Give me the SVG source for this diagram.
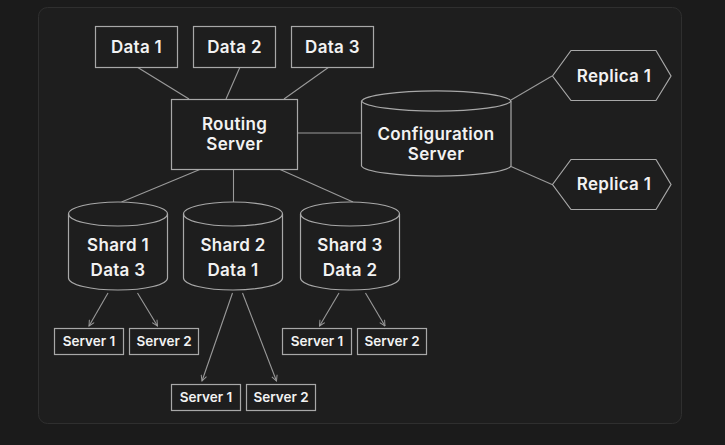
<svg xmlns="http://www.w3.org/2000/svg" width="725" height="445" viewBox="0 0 725 445">
<defs>
<style>
.bg{fill:#1b1b1b}
.panel{fill:#1e1e1e;stroke:#2f2f2f;stroke-width:1}
.n{fill:#1e1e1e;stroke:#a8a8a8;stroke-width:1.2}
.e{fill:none;stroke:#a8a8a8;stroke-width:1.2}
.c{fill:none;stroke:#9a9a9a;stroke-width:1.1}
.t{font-family:Inter,"Noto Sans",sans-serif;font-weight:600;font-size:17px;letter-spacing:0.3px;fill:#f2f2f2;text-anchor:middle}
.s{font-family:Inter,"Noto Sans",sans-serif;font-weight:600;font-size:13.5px;fill:#f2f2f2;text-anchor:middle}
</style>
<marker id="arr" viewBox="0 0 10 10" refX="9" refY="5" markerWidth="7" markerHeight="7" orient="auto" markerUnits="userSpaceOnUse">
<path d="M1,1 L9,5 L1,9" fill="none" stroke="#9a9a9a" stroke-width="1.4"/>
</marker>
</defs>
<rect class="bg" x="0" y="0" width="725" height="445"/>
<rect class="panel" x="38.5" y="7.5" width="643" height="416" rx="9"/>

<g id="connectors">
<line class="c" x1="137" y1="67" x2="189" y2="99"/>
<line class="c" x1="240" y1="67" x2="226" y2="99"/>
<line class="c" x1="329" y1="67" x2="284" y2="99"/>
<line class="c" x1="297" y1="133" x2="361" y2="133"/>
<line class="c" x1="511" y1="100" x2="552" y2="76"/>
<line class="c" x1="511" y1="166.5" x2="552" y2="184.5"/>
<line class="c" x1="201" y1="169" x2="121.5" y2="202"/>
<line class="c" x1="233.5" y1="169" x2="233.5" y2="202"/>
<line class="c" x1="279" y1="169" x2="353" y2="202"/>
<line class="c" x1="108" y1="293" x2="89" y2="326" marker-end="url(#arr)"/>
<line class="c" x1="137.5" y1="293" x2="157.5" y2="326" marker-end="url(#arr)"/>
<line class="c" x1="232.5" y1="293" x2="202" y2="381" marker-end="url(#arr)"/>
<line class="c" x1="242.5" y1="293" x2="276.5" y2="381" marker-end="url(#arr)"/>
<line class="c" x1="339" y1="293" x2="319.5" y2="326" marker-end="url(#arr)"/>
<line class="c" x1="365.5" y1="293" x2="385" y2="326" marker-end="url(#arr)"/>
</g>

<g id="data1"><rect class="n" x="95.5" y="26.5" width="82" height="41"/><text class="t" x="136.5" y="53">Data 1</text></g>
<g id="data2"><rect class="n" x="193.5" y="26.5" width="82" height="41"/><text class="t" x="234.5" y="53">Data 2</text></g>
<g id="data3"><rect class="n" x="291.5" y="26.5" width="82" height="41"/><text class="t" x="332.5" y="53">Data 3</text></g>

<g id="routing"><rect class="n" x="171.5" y="99.5" width="126" height="70"/><text class="t" x="234.5" y="130">Routing</text><text class="t" x="234.5" y="150">Server</text></g>

<g id="config">
<path class="n" d="M361.5,101 L361.5,166 A75,11 0 0 0 511,166 L511,101 A75,11 0 0 0 361.5,101 Z"/>
<path class="e" d="M361.5,101 A75,11 0 0 0 511,101"/>
<text class="t" x="436" y="140">Configuration</text><text class="t" x="436" y="160">Server</text>
</g>

<g id="replica1"><polygon class="n" points="552.5,76 571,50.5 656,50.5 671,76 656,100.5 571,100.5"/><text class="t" x="614" y="82">Replica 1</text></g>
<g id="replica2"><polygon class="n" points="552.5,184.5 571,159.5 656,159.5 671,184.5 656,209.5 571,209.5"/><text class="t" x="614" y="190">Replica 1</text></g>

<g id="shard1">
<path class="n" d="M68.5,214 L68.5,278 A49.5,12 0 0 0 167.5,278 L167.5,214 A49.5,12 0 0 0 68.5,214 Z"/>
<path class="e" d="M68.5,214 A49.5,12 0 0 0 167.5,214"/>
<text class="t" x="118" y="251">Shard 1</text><text class="t" x="118" y="276">Data 3</text>
</g>
<g id="shard2">
<path class="n" d="M183.5,214 L183.5,278 A49.5,12 0 0 0 282.5,278 L282.5,214 A49.5,12 0 0 0 183.5,214 Z"/>
<path class="e" d="M183.5,214 A49.5,12 0 0 0 282.5,214"/>
<text class="t" x="233" y="251">Shard 2</text><text class="t" x="233" y="276">Data 1</text>
</g>
<g id="shard3">
<path class="n" d="M300.5,214 L300.5,278 A49.5,12 0 0 0 399.5,278 L399.5,214 A49.5,12 0 0 0 300.5,214 Z"/>
<path class="e" d="M300.5,214 A49.5,12 0 0 0 399.5,214"/>
<text class="t" x="350" y="251">Shard 3</text><text class="t" x="350" y="276">Data 2</text>
</g>

<g id="s1server1"><rect class="n" x="54.5" y="328.5" width="69" height="26"/><text class="s" x="89" y="346">Server 1</text></g>
<g id="s1server2"><rect class="n" x="129.5" y="328.5" width="69" height="26"/><text class="s" x="164" y="346">Server 2</text></g>
<g id="s2server1"><rect class="n" x="171.5" y="384.5" width="69" height="26"/><text class="s" x="206" y="402">Server 1</text></g>
<g id="s2server2"><rect class="n" x="246.5" y="384.5" width="69" height="26"/><text class="s" x="281" y="402">Server 2</text></g>
<g id="s3server1"><rect class="n" x="282.5" y="328.5" width="69" height="26"/><text class="s" x="317" y="346">Server 1</text></g>
<g id="s3server2"><rect class="n" x="357.5" y="328.5" width="69" height="26"/><text class="s" x="392" y="346">Server 2</text></g>
</svg>
